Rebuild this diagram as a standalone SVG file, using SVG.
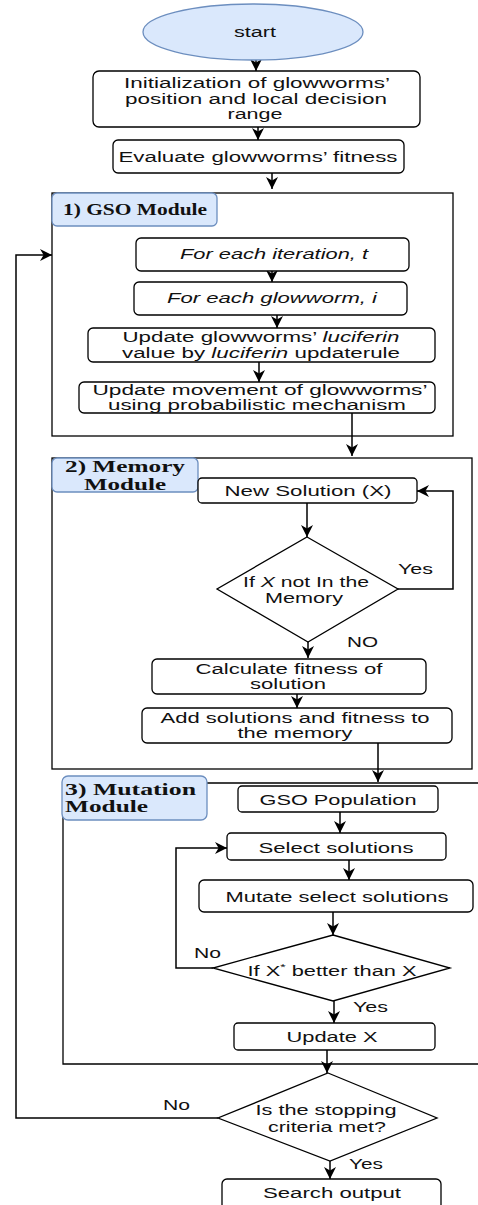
<svg xmlns="http://www.w3.org/2000/svg" width="478" height="1205" viewBox="0 0 478 1205">
<style>
.b{fill:#fff;stroke:#000;stroke-width:1.3}
.m{fill:none;stroke:#000;stroke-width:1.3}
.lb{fill:#dae8fc;stroke:#6c8ebf;stroke-width:1.3}
.t{font-family:"Liberation Sans",Arial,sans-serif;font-size:14px;fill:#111}
.c{text-anchor:middle}
.i{font-style:italic}
.h{font-family:"Liberation Serif","Times New Roman",serif;font-weight:bold;font-size:16px;fill:#111}
.e{fill:none;stroke:#000;stroke-width:1.5}
</style>
<defs>
<marker id="ah" markerUnits="userSpaceOnUse" markerWidth="12" markerHeight="12" viewBox="0 0 10 10" refX="10" refY="5" orient="auto">
<path d="M0,0 L10,5 L0,10 L3,5 z" fill="#000"/>
</marker>
</defs>

<g id="module-gso">
<rect class="m" x="52" y="193" width="401" height="243"/>
<rect class="lb" x="52" y="193" width="165" height="33" rx="5"/>
<text class="h" x="63" y="215" textLength="144" lengthAdjust="spacingAndGlyphs">1) GSO Module</text>
</g>
<g id="module-memory">
<rect class="m" x="52" y="458" width="420" height="311"/>
<rect class="lb" x="52" y="458" width="146" height="34" rx="5"/>
<text class="h c" x="125" y="472" textLength="120" lengthAdjust="spacingAndGlyphs">2) Memory</text>
<text class="h c" x="125" y="490" textLength="82" lengthAdjust="spacingAndGlyphs">Module</text>
</g>
<g id="module-mutation">
<path class="m" d="M478,783 L63,783 L63,1064 L478,1064"/>
<rect class="lb" x="62" y="776" width="145" height="44" rx="6"/>
<text class="h" x="65" y="795" textLength="131" lengthAdjust="spacingAndGlyphs">3) Mutation</text>
<text class="h" x="65" y="812" textLength="83" lengthAdjust="spacingAndGlyphs">Module</text>
</g>

<g id="connectors">
<path class="e" marker-end="url(#ah)" d="M256,60 L256,71"/>
<path class="e" marker-end="url(#ah)" d="M258,127 L258,140"/>
<path class="e" marker-end="url(#ah)" d="M272,173 L272,189"/>
<path class="e" marker-end="url(#ah)" d="M272,271 L272,282"/>
<path class="e" marker-end="url(#ah)" d="M277,315 L277,328"/>
<path class="e" marker-end="url(#ah)" d="M259,362 L259,382"/>
<path class="e" marker-end="url(#ah)" d="M352,413 L352,456"/>
<path class="e" marker-end="url(#ah)" d="M307,503 L307,537"/>
<path class="e" marker-end="url(#ah)" d="M398,589 L453,589 L453,491 L417,491"/>
<path class="e" marker-end="url(#ah)" d="M308,642 L308,658"/>
<path class="e" marker-end="url(#ah)" d="M297,694 L297,708"/>
<path class="e" marker-end="url(#ah)" d="M378,743 L378,782"/>
<path class="e" marker-end="url(#ah)" d="M340,812 L340,833"/>
<path class="e" marker-end="url(#ah)" d="M349,860 L349,880"/>
<path class="e" marker-end="url(#ah)" d="M333,912 L333,935"/>
<path class="e" marker-end="url(#ah)" d="M213,968 L176,968 L176,848 L227,848"/>
<path class="e" marker-end="url(#ah)" d="M334,1001 L334,1023"/>
<path class="e" marker-end="url(#ah)" d="M327,1050 L327,1073"/>
<path class="e" marker-end="url(#ah)" d="M218,1118 L16,1118 L16,255 L52,255"/>
<path class="e" marker-end="url(#ah)" d="M330,1161 L330,1179"/>
<text class="t" x="398" y="574" textLength="35" lengthAdjust="spacingAndGlyphs">Yes</text>
<text class="t" x="347" y="647" textLength="31" lengthAdjust="spacingAndGlyphs">NO</text>
<text class="t" x="194" y="958" textLength="27" lengthAdjust="spacingAndGlyphs">No</text>
<text class="t" x="353" y="1012" textLength="35" lengthAdjust="spacingAndGlyphs">Yes</text>
<text class="t" x="163" y="1110" textLength="27" lengthAdjust="spacingAndGlyphs">No</text>
<text class="t" x="349" y="1169" textLength="34" lengthAdjust="spacingAndGlyphs">Yes</text>
</g>

<g id="start">
<ellipse cx="253" cy="32" rx="110" ry="28" fill="#dae8fc" stroke="#6c8ebf" stroke-width="1.3"/>
<text class="t c" x="255" y="37" textLength="42" lengthAdjust="spacingAndGlyphs">start</text>
</g>
<g id="init">
<rect class="b" x="93" y="71" width="327" height="56" rx="6"/>
<text class="t c" x="257" y="88" textLength="266" lengthAdjust="spacingAndGlyphs">Initialization of glowworms’</text>
<text class="t c" x="256" y="104" textLength="262" lengthAdjust="spacingAndGlyphs">position and local decision</text>
<text class="t c" x="255" y="119" textLength="55" lengthAdjust="spacingAndGlyphs">range</text>
</g>
<g id="evaluate">
<rect class="b" x="113" y="140" width="291" height="33" rx="5"/>
<text class="t c" x="258" y="162" textLength="279" lengthAdjust="spacingAndGlyphs">Evaluate glowworms’ fitness</text>
</g>
<g id="iteration">
<rect class="b" x="136" y="238" width="273" height="33" rx="5"/>
<text class="t c i" x="274" y="259" textLength="188" lengthAdjust="spacingAndGlyphs">For each iteration, t</text>
</g>
<g id="glowworm">
<rect class="b" x="134" y="282" width="273" height="33" rx="5"/>
<text class="t c i" x="272" y="303" textLength="210" lengthAdjust="spacingAndGlyphs">For each glowworm, i</text>
</g>
<g id="luciferin">
<rect class="b" x="88" y="328" width="347" height="34" rx="5"/>
<text class="t c" x="261" y="342" textLength="277" lengthAdjust="spacingAndGlyphs">Update glowworms’ <tspan class="i">luciferin</tspan></text>
<text class="t c" x="261" y="358" textLength="278" lengthAdjust="spacingAndGlyphs">value by <tspan class="i">luciferin</tspan> updaterule</text>
</g>
<g id="movement">
<rect class="b" x="79" y="382" width="356" height="31" rx="5"/>
<text class="t c" x="260" y="395" textLength="335" lengthAdjust="spacingAndGlyphs">Update movement of glowworms’</text>
<text class="t c" x="257" y="410" textLength="298" lengthAdjust="spacingAndGlyphs">using probabilistic mechanism</text>
</g>
<g id="new-solution">
<rect class="b" x="198" y="478" width="219" height="25" rx="4"/>
<text class="t c" x="308" y="496" textLength="167" lengthAdjust="spacingAndGlyphs">New Solution (X)</text>
</g>
<g id="in-memory">
<path class="b" d="M307,537 L398,589 L308,642 L217,589 Z"/>
<text class="t c" x="306" y="587" textLength="126" lengthAdjust="spacingAndGlyphs">If <tspan class="i">X</tspan> not In the</text>
<text class="t c" x="304" y="603" textLength="78" lengthAdjust="spacingAndGlyphs">Memory</text>
</g>
<g id="calc-fitness">
<rect class="b" x="152" y="659" width="274" height="35" rx="5"/>
<text class="t c" x="289" y="674" textLength="187" lengthAdjust="spacingAndGlyphs">Calculate fitness of</text>
<text class="t c" x="288" y="689" textLength="76" lengthAdjust="spacingAndGlyphs">solution</text>
</g>
<g id="add-memory">
<rect class="b" x="142" y="708" width="310" height="35" rx="5"/>
<text class="t c" x="295" y="723" textLength="269" lengthAdjust="spacingAndGlyphs">Add solutions and fitness to</text>
<text class="t c" x="295" y="738" textLength="115" lengthAdjust="spacingAndGlyphs">the memory</text>
</g>
<g id="gso-population">
<rect class="b" x="238" y="786" width="200" height="26" rx="4"/>
<text class="t c" x="338" y="805" textLength="157" lengthAdjust="spacingAndGlyphs">GSO Population</text>
</g>
<g id="select">
<rect class="b" x="227" y="833" width="219" height="27" rx="4"/>
<text class="t c" x="336" y="853" textLength="155" lengthAdjust="spacingAndGlyphs">Select solutions</text>
</g>
<g id="mutate">
<rect class="b" x="199" y="880" width="274" height="32" rx="5"/>
<text class="t c" x="337" y="902" textLength="223" lengthAdjust="spacingAndGlyphs">Mutate select solutions</text>
</g>
<g id="better">
<path class="b" d="M333,935 L450,968 L333,1001 L213,968 Z"/>
<text class="t c" x="332" y="976" textLength="169" lengthAdjust="spacingAndGlyphs">If X<tspan dy="-6" font-size="9">*</tspan><tspan dy="6"> better than X</tspan></text>
</g>
<g id="update-x">
<rect class="b" x="234" y="1023" width="201" height="27" rx="4"/>
<text class="t c" x="332" y="1042" textLength="91" lengthAdjust="spacingAndGlyphs">Update X</text>
</g>
<g id="stopping">
<path class="b" d="M328,1073 L437,1118 L330,1161 L218,1118 Z"/>
<text class="t c" x="326" y="1115" textLength="141" lengthAdjust="spacingAndGlyphs">Is the stopping</text>
<text class="t c" x="327" y="1132" textLength="118" lengthAdjust="spacingAndGlyphs">criteria met?</text>
</g>
<g id="search-output">
<rect class="b" x="222" y="1179" width="219" height="40" rx="5"/>
<text class="t c" x="332" y="1198" textLength="138" lengthAdjust="spacingAndGlyphs">Search output</text>
</g>
</svg>
